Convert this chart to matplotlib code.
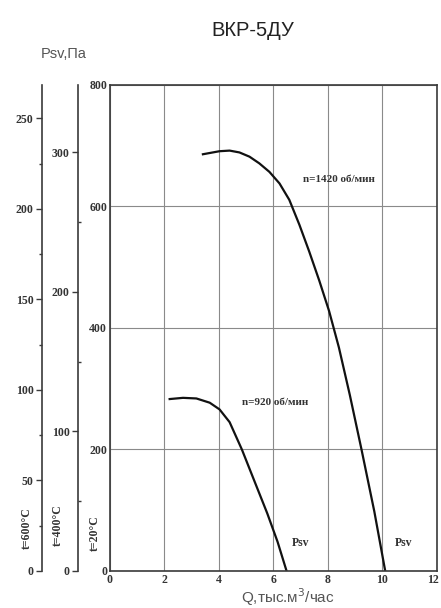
import matplotlib
matplotlib.use("Agg")
from matplotlib import pyplot as plt
from matplotlib.ticker import MultipleLocator
from matplotlib.transforms import ScaledTranslation

# fan curve data
q_1420 = [3.41, 4.02, 4.39, 4.75, 5.12, 5.48, 5.85, 6.22, 6.58, 6.95, 7.31,
          7.68, 8.04, 8.4, 8.8, 9.23, 9.7, 10.1]
p_1420 = [686, 691, 692, 689, 682, 671, 657, 638, 611, 570, 526,
          478, 428, 368, 290, 200, 98, 0]

q_920 = [2.19, 2.68, 3.17, 3.66, 4.02, 4.39, 4.84, 5.3, 5.77, 6.15, 6.48]
p_920 = [283, 285, 284, 277, 266, 245, 200, 148, 95, 48, 0]

x_ticks = [0, 2, 4, 6, 8, 10, 12]
y_ticks = [0, 200, 400, 600, 800]
y_ticks_400 = [0, 100, 200, 300]
y_ticks_600 = [0, 50, 100, 150, 200, 250]

# density ratios for hot air (20C reference)
ratio_400 = (273 + 20) / (273 + 400)
ratio_600 = (273 + 20) / (273 + 600)

serif = "Liberation Serif"
sans = "Liberation Sans"
spine_col = "#3a3a3a"
txt_col = "#333333"
fs_tick = 8.5

fig = plt.figure(figsize=(4.41, 6.08), dpi=100)
ax = fig.add_axes([0.2494, 0.0609, 0.7415, 0.7993])

ax.set_xlim(0, 12)
ax.set_ylim(0, 800)
ax.set_xticks(x_ticks)
ax.set_yticks(y_ticks)
ax.grid(True, color="#8a8a8a", lw=0.8)
ax.set_axisbelow(True)
for s in ax.spines.values():
    s.set_color(spine_col)
    s.set_linewidth(1.2)
ax.tick_params(length=0, pad=2, labelsize=fs_tick, labelcolor=txt_col)
for lab in ax.get_xticklabels() + ax.get_yticklabels():
    lab.set_family(serif)
    lab.set_fontweight("bold")
# last x label sits on the figure edge, nudge it in a little
last = ax.get_xticklabels()[-1]
last.set_transform(last.get_transform() + ScaledTranslation(-4 / 100, 0, fig.dpi_scale_trans))

ax.plot(q_1420, p_1420, color="#111111", lw=1.6, solid_joinstyle="round")
ax.plot(q_920, p_920, color="#111111", lw=1.6, solid_joinstyle="round")

ax.text(8.4, 644, "n=1420 об/мин", family=serif, fontsize=8, fontweight="bold",
        color=txt_col, ha="center", va="center")
ax.text(6.05, 277, "n=920 об/мин", family=serif, fontsize=8, fontweight="bold",
        color=txt_col, ha="center", va="center")
ax.text(7.0, 46, "Psv", family=serif, fontsize=8.5, fontweight="bold",
        color=txt_col, ha="center", va="center")
ax.text(10.77, 46, "Psv", family=serif, fontsize=8.5, fontweight="bold",
        color=txt_col, ha="center", va="center")


def side_axis(top, pos, major, minor, minor_dir):
    a = ax.twinx()
    a.set_ylim(0, top)
    for name in ("top", "bottom", "right"):
        a.spines[name].set_visible(False)
    a.spines["left"].set_visible(True)
    a.spines["left"].set_position(("axes", pos))
    a.spines["left"].set_color(spine_col)
    a.spines["left"].set_linewidth(1.2)
    a.yaxis.set_ticks_position("left")
    a.set_yticks(major)
    a.yaxis.set_minor_locator(MultipleLocator(minor))
    a.tick_params(which="major", length=4, width=1, color=spine_col,
                  labelsize=fs_tick, labelcolor=txt_col, pad=2)
    a.tick_params(which="minor", length=2.5, width=1, color=spine_col,
                  direction=minor_dir)
    for lab in a.get_yticklabels():
        lab.set_family(serif)
        lab.set_fontweight("bold")
    return a


ax400 = side_axis(800 * ratio_400, -0.098, y_ticks_400, 50, "in")
ax600 = side_axis(800 * ratio_600, -0.208, y_ticks_600, 25, "out")

fig.text(27 / 441, 1 - 528 / 608, "t=600°C", rotation=90, family=serif,
         fontsize=8.5, fontweight="bold", color=txt_col, ha="center", va="center")
fig.text(58 / 441, 1 - 525 / 608, "t=400°C", rotation=90, family=serif,
         fontsize=8.5, fontweight="bold", color=txt_col, ha="center", va="center")
fig.text(95 / 441, 1 - 533 / 608, "t=20°C", rotation=90, family=serif,
         fontsize=8.5, fontweight="bold", color=txt_col, ha="center", va="center")

fig.text(253 / 441, 1 - 30 / 608, "ВКР-5ДУ", family=sans, fontsize=14.5,
         color="#222222", ha="center", va="center")
fig.text(64 / 441, 1 - 54 / 608, "Psv,Па", family=sans, fontsize=10.5,
         color="#555555", ha="center", va="center")
fig.text(288 / 441, 1 - 597 / 608, "Q,тыс.м$^3$/час", family=sans, fontsize=11,
         color="#555555", ha="center", va="center")

fig.savefig("out.png", dpi=100)
